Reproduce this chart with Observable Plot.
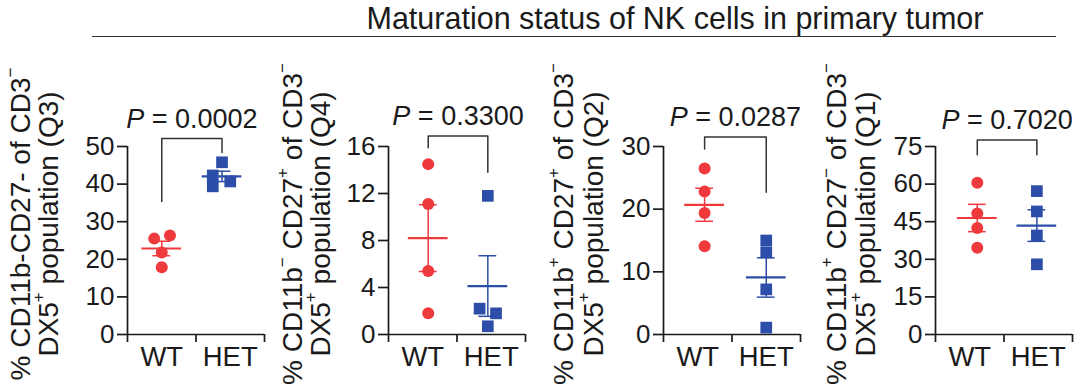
<!DOCTYPE html>
<html>
<head>
<meta charset="utf-8">
<script src="https://cdn.jsdelivr.net/npm/d3@7"></script>
<script src="https://cdn.jsdelivr.net/npm/@observablehq/plot@0.6"></script>
<style>
  body { margin: 0; background: #fff; }
  #fig { position: relative; width: 1080px; height: 390px; overflow: hidden; background: #fff;
         font-family: "Liberation Sans", Arial, Helvetica, sans-serif; color: #1a1a1a; }
  #title { position: absolute; left: 275px; width: 800px; top: 2px; text-align: center; font-size: 30.5px; line-height: 32px; }
  #rule { position: absolute; left: 92px; width: 964px; top: 36px; border-top: 1.6px solid #333; }
  .panel { position: absolute; top: 0; }
  .panel svg { overflow: visible; }
</style>
</head>
<body>
<div id="fig">
  <div id="title"></div>
  <div id="rule"></div>
</div>
<script>
// ---------------- data ----------------
const groups = ["WT", "HET"];
const figureTitle = "Maturation status of NK cells in primary tumor";

const q3WT = [25.5, 26.3, 21.8, 17.9];
const q3HET = [45.8, 42.3, 40.7, 39.4];
const q4WT = [14.5, 11.1, 5.4, 1.8];
const q4HET = [11.8, 2.2, 1.8, 0.7];
const q2WT = [26.5, 22.8, 19.4, 14.1];
const q2HET = [15.0, 13.1, 7.2, 1.1];
const q1WT = [60.5, 48.3, 42.5, 34.6];
const q1HET = [57.2, 49.1, 39.5, 28.0];

const wtValues = [q3WT, q4WT, q2WT, q1WT];
const hetValues = [q3HET, q4HET, q2HET, q1HET];

// horizontal scatter of the points (in category units), as drawn in the original
const wtJitter = [[-0.11, 0.12, 0, 0], [0, 0, 0, 0], [0, 0, 0, 0], [0, 0, 0, 0]];
const hetJitter = [[0, -0.135, 0.12, -0.135], [0, -0.12, 0.12, 0], [0, 0, 0, 0], [0, 0, 0, 0]];
// group centre positions (category units; WT = 1, HET = 2)
const groupPos = [[1.0, 1.88], [1.08, 1.95], [1.1, 2.0], [1.11, 1.98]];

const pValues = ["0.0002", "0.3300", "0.0287", "0.7020"];
// bracket: [WT leg end, top, HET leg end] in y units
const brackets = [[35.4, 52.1, 48.4], [15.9, 16.9, 13.8], [29.6, 31.5, 22.7], [71.7, 77.6, 71.7]];

const yTicks = [[0, 10, 20, 30, 40, 50], [0, 4, 8, 12, 16], [0, 10, 20, 30], [0, 15, 30, 45, 60, 75]];

const yTitles = [
  ["% CD11b-CD27- of CD3^{−}", "DX5^{+} population (Q3)"],
  ["% CD11b^{−} CD27^{+} of CD3^{−}", "DX5^{+} population (Q4)"],
  ["% CD11b^{+} CD27^{+} of CD3^{−}", "DX5^{+} population (Q2)"],
  ["% CD11b^{+} CD27^{−} of CD3^{−}", "DX5^{+} population (Q1)"]
];

// ---------------- layout ----------------
const FONT = "'Liberation Sans', Arial, Helvetica, sans-serif";
const RED = "#ee3a3c", BLUE = "#2c4ea8", INK = "#1a1a1a";
const W = 270, H = 390, ML = 127, MR = 6, MT = 146, MB = 56;
const panelLeft = [0, 261, 536, 808];
const titleDx = [[-107, -79], [-96, -68], [-100, -70], [-99, -70]];
const titleCY = 224;

function parseRich(str) {
  const parts = [];
  const re = /\^\{([^}]*)\}/g;
  let last = 0, m;
  while ((m = re.exec(str))) {
    if (m.index > last) parts.push({t: str.slice(last, m.index), sup: false});
    parts.push({t: m[1], sup: true});
    last = re.lastIndex;
  }
  if (last < str.length) parts.push({t: str.slice(last), sup: false});
  return parts;
}

function makePanel(i) {
  const wt = wtValues[i], het = hetValues[i];
  const [pw, ph] = groupPos[i];
  const pts = [
    ...wt.map((v, j) => ({g: 0, x: pw + wtJitter[i][j], y: v})),
    ...het.map((v, j) => ({g: 1, x: ph + hetJitter[i][j], y: v}))
  ];
  const stats = [wt, het].map((vals, g) => {
    const m = d3.mean(vals), se = d3.deviation(vals) / Math.sqrt(vals.length);
    return {g, x: g ? ph : pw, m, lo: m - se, hi: m + se};
  });
  const [bl, bt, br] = brackets[i];
  const bracket = [{x: pw, y: bl}, {x: pw, y: bt}, {x: ph, y: bt}, {x: ph, y: br}];
  const ymax = d3.max(yTicks[i]);
  const mid = (pw + ph) / 2;

  const plot = Plot.plot({
    width: W, height: H,
    marginLeft: ML, marginRight: MR, marginTop: MT, marginBottom: MB,
    style: {background: "transparent", fontFamily: FONT, overflow: "visible", color: INK},
    x: {domain: [0.5, 2.5], axis: null},
    y: {domain: [0, ymax], axis: null},
    color: {type: "ordinal", domain: [0, 1], range: [RED, BLUE]},
    marks: [
      Plot.ruleX([0.5], {y1: 0, y2: ymax, stroke: INK, strokeWidth: 1.7}),
      Plot.ruleY([0], {x1: 0.5, x2: 2.5, stroke: INK, strokeWidth: 1.7}),
      Plot.axisY(yTicks[i], {tickSize: 10, tickPadding: 3, fontSize: 26, stroke: INK, strokeWidth: 1.7, fill: INK, label: null, tickFormat: d => String(d)}),
      Plot.axisX([0.5, 1.5, 2.5], {tickSize: 8, tickFormat: () => "", stroke: INK, strokeWidth: 1.7, label: null}),
      Plot.axisX([1, 2], {tickSize: 0, tickPadding: 12, fontSize: 27.5, fill: INK, label: null, tickFormat: d => groups[d - 1]}),
      Plot.line(bracket, {x: "x", y: "y", stroke: "#333", strokeWidth: 1.5}),
      Plot.text([pValues[i]], {x: () => mid, y: () => bt, dy: -11, lineAnchor: "bottom", fontSize: 27, fill: INK, text: d => "P = " + d, className: "ptext"}),
      Plot.dot(pts.filter(d => d.g === 0), {x: "x", y: "y", r: 6, fill: RED, symbol: "circle"}),
      Plot.dot(pts.filter(d => d.g === 1), {x: "x", y: "y", r: 6.6, fill: BLUE, symbol: "square"}),
      Plot.ruleX(stats, {x: "x", y1: "lo", y2: "hi", stroke: "g", strokeWidth: 1.5}),
      Plot.ruleY(stats, {y: "hi", x1: d => d.x - 0.13, x2: d => d.x + 0.13, stroke: "g", strokeWidth: 1.5}),
      Plot.ruleY(stats, {y: "lo", x1: d => d.x - 0.13, x2: d => d.x + 0.13, stroke: "g", strokeWidth: 1.5}),
      Plot.ruleY(stats, {y: "m", x1: d => d.x - 0.29, x2: d => d.x + 0.29, stroke: "g", strokeWidth: 2.2})
    ]
  });

  const svg = d3.select(plot);
  // italic P in the p-value label
  svg.selectAll(".ptext text").each(function () {
    const t = d3.select(this);
    const s = t.text();
    t.text(null);
    t.append("tspan").attr("font-style", "italic").text(s.slice(0, 1));
    t.append("tspan").text(s.slice(1));
  });
  // two-line rotated y-axis title with superscripts
  yTitles[i].forEach((line, k) => {
    const t = svg.append("text")
      .attr("transform", `translate(${ML + titleDx[i][k]},${titleCY}) rotate(-90)`)
      .attr("text-anchor", "middle")
      .attr("dominant-baseline", "central")
      .attr("font-size", 28)
      .attr("font-family", FONT)
      .attr("fill", INK);
    let shifted = false;
    parseRich(line).forEach(p => {
      const ts = t.append("tspan").text(p.t);
      if (p.sup) { ts.attr("font-size", 17).attr("dy", -10); shifted = true; }
      else if (shifted) { ts.attr("dy", 10); shifted = false; }
    });
  });

  const div = document.createElement("div");
  div.className = "panel";
  div.style.left = panelLeft[i] + "px";
  div.appendChild(plot);
  document.getElementById("fig").appendChild(div);
}

document.getElementById("title").textContent = figureTitle;
for (let i = 0; i < 4; i++) makePanel(i);
</script>
</body>
</html>
